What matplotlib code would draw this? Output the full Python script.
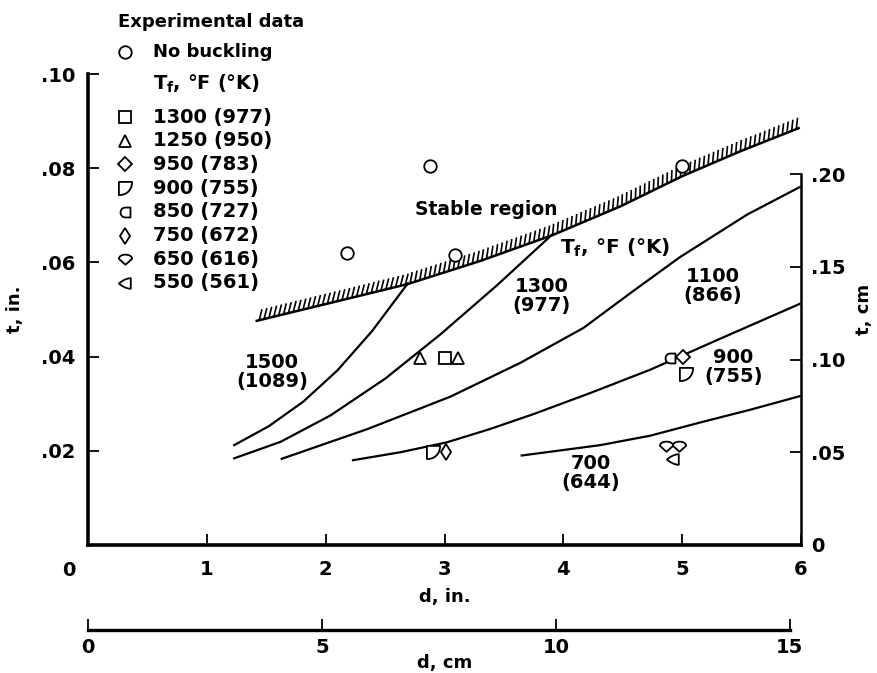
import matplotlib.pyplot as plt
from matplotlib.path import Path
import matplotlib.patheffects as pe

plt.rcParams['font.family'] = ['DejaVu Sans']
plt.rcParams['font.weight'] = 'bold'
plt.rcParams['axes.labelweight'] = 'bold'
plt.rcParams['mathtext.fontset'] = 'custom'
plt.rcParams['mathtext.rm'] = 'DejaVu Sans:bold'
plt.rcParams['mathtext.default'] = 'rm'

FS_NUM = 14     # numbers
FS_TXT = 13     # words

# boundary of stable region (hatched line)
bound_d = [1.42, 2.04, 2.69, 3.30, 3.91, 4.48, 5.0, 5.49, 5.98]
bound_t = [0.0476, 0.0514, 0.0554, 0.0603, 0.0658, 0.0719, 0.0783, 0.0836, 0.0885]

# buckling curves, T_f in degF (degK)
c1500_d = [1.23, 1.52, 1.81, 2.10, 2.39, 2.69]
c1500_t = [0.0212, 0.0252, 0.0304, 0.0371, 0.0454, 0.0555]
c1300_d = [1.23, 1.62, 2.04, 2.50, 2.96, 3.44, 3.91]
c1300_t = [0.0184, 0.0219, 0.0275, 0.0353, 0.0446, 0.0551, 0.0660]
c1100_d = [1.63, 2.35, 3.05, 3.64, 4.17, 4.56, 4.98, 5.55, 5.99]
c1100_t = [0.0183, 0.0246, 0.0315, 0.0387, 0.0461, 0.0534, 0.0611, 0.0702, 0.0760]
c900_d = [2.23, 2.63, 3.02, 3.38, 3.75, 4.23, 4.73, 5.32, 5.99]
c900_t = [0.0180, 0.0197, 0.0218, 0.0246, 0.0278, 0.0323, 0.0372, 0.0438, 0.0512]
c700_d = [3.65, 4.31, 4.73, 5.15, 5.57, 5.99]
c700_t = [0.0190, 0.0212, 0.0232, 0.0260, 0.0287, 0.0316]

curve_labels = ['1500\n(1089)', '1300\n(977)', '1100\n(866)', '900\n(755)', '700\n(644)']
label_d = [1.55, 3.82, 5.26, 5.43, 4.23]
label_t = [0.0368, 0.0528, 0.0549, 0.0378, 0.0153]

# experimental data
nobuck_d = [2.18, 2.88, 3.09, 5.0]
nobuck_t = [0.062, 0.0805, 0.0616, 0.0804]
exp_names = ['1300 (977)', '1250 (950)', '950 (783)', '900 (755)',
             '850 (727)', '750 (672)', '650 (616)', '550 (561)']
exp_d = [[3.0], [2.79, 3.11], [5.01], [2.90, 5.03],
         [4.90], [3.01], [4.86, 4.97], [4.92]]
exp_t = [[0.0398], [0.0398, 0.0398], [0.040], [0.0197, 0.0364],
         [0.0397], [0.0197], [0.0210, 0.0210], [0.0182]]

# custom marker shapes
C, L, M, Z = Path.CURVE4, Path.LINETO, Path.MOVETO, Path.CLOSEPOLY
m900 = Path([(-1, 1), (1, 1), (1, -0.2), (0.2, -1), (-1, -1), (-1, 1)],
            [M, L, C, C, C, Z])
m850 = Path([(0, 1), (1, 1), (1, -1), (0, -1), (-1.33, -1), (-1.33, 1), (0, 1), (0, 1)],
            [M, L, L, L, C, C, C, Z])
m650 = Path([(-1, 0.1), (-1, 0.95), (1, 0.95), (1, 0.1), (0, -0.8), (-1, 0.1)],
            [M, C, C, C, L, Z])
m550 = Path([(0.8, 0.8), (0.8, -0.8), (0.1, -0.8), (-0.6, -0.35), (-1, 0),
             (-0.6, 0.35), (0.1, 0.8), (0.8, 0.8), (0.8, 0.8)],
            [M, L, C, C, C, C, C, C, Z])
markers = ['s', '^', 'D', m900, m850, 'd', m650, m550]
msizes = [8.5, 9, 7.5, 9.5, 9.5, 8, 9.5, 9.5]

W, H = 877, 673
fig = plt.figure(figsize=(W/100, H/100), dpi=100)
ax = fig.add_axes([88/W, 1-545/H, 713/W, 471/H])
ax.set_xlim(0, 6)
ax.set_ylim(0, 0.1)

for d, t in [(c1500_d, c1500_t), (c1300_d, c1300_t), (c1100_d, c1100_t),
             (c900_d, c900_t), (c700_d, c700_t)]:
    ax.plot(d, t, color='black', lw=1.6, clip_on=False, solid_joinstyle='round')

ax.plot(bound_d, bound_t, color='black', lw=1.8, clip_on=False,
        path_effects=[pe.withTickedStroke(angle=62, spacing=3.6, length=2.1, linewidth=1.2)])

for txt, x, y in zip(curve_labels, label_d, label_t):
    ax.text(x, y, txt, ha='center', va='center', fontsize=FS_NUM, linespacing=1.0)
ax.text(2.75, 0.0713, 'Stable region', ha='left', va='center', fontsize=13.5)
ax.text(3.97, 0.063, 'T$_{f}$, °F (°K)', ha='left', va='center', fontsize=14.5)

mk = dict(color='black', mfc='white', mew=1.3, linestyle='none', clip_on=False)
ax.plot(nobuck_d, nobuck_t, marker='o', ms=9, **mk)
for d, t, m, s in zip(exp_d, exp_t, markers, msizes):
    ax.plot(d, t, marker=m, ms=s, **mk)

# key in the upper left (positions in figure pixels)
def fx(px):
    return px / W

def fy(py):
    return 1 - py / H

fig.text(fx(118), fy(22), 'Experimental data', ha='left', va='center', fontsize=FS_TXT)
ax.plot([fx(125)], [fy(52)], transform=fig.transFigure, marker='o', ms=9, **mk)
fig.text(fx(153), fy(52), 'No buckling', ha='left', va='center', fontsize=FS_TXT)
fig.text(fx(153), fy(84), 'T$_{f}$, °F (°K)', ha='left', va='center', fontsize=14)
for i, (n, m, s) in enumerate(zip(exp_names, markers, msizes)):
    row = 117 + 23.7 * i
    ax.plot([fx(125)], [fy(row)], transform=fig.transFigure, marker=m, ms=s, **mk)
    fig.text(fx(153), fy(row), n, ha='left', va='center', fontsize=FS_NUM)

# spines and ticks
ax.spines['top'].set_visible(False)
ax.spines['right'].set_visible(False)
ax.spines['left'].set_linewidth(2.6)
ax.spines['bottom'].set_linewidth(2.6)
ax.spines['left'].set_bounds(0, 0.1)
ax.set_xticks([1, 2, 3, 4, 5, 6])
ax.set_xticklabels(['1', '2', '3', '4', '5', '6'])
ax.set_yticks([0.02, 0.04, 0.06, 0.08, 0.10])
ax.set_yticklabels(['.02', '.04', '.06', '.08', '.10'])
ax.tick_params(direction='in', length=8, width=1.3, labelsize=FS_NUM)
ax.tick_params(axis='x', pad=11)
ax.tick_params(axis='y', pad=9)
ax.annotate('0', xy=(0, 0), xycoords=('data', 'axes fraction'), xytext=(-14, -18),
            textcoords='offset points', ha='center', va='center', fontsize=FS_NUM)
ax.set_xlabel('d, in.', fontsize=FS_TXT, labelpad=6)
ax.set_ylabel('t, in.', fontsize=FS_TXT, labelpad=12)

ax2 = ax.secondary_yaxis('right', functions=(lambda t: t*2.54, lambda c: c/2.54))
ax2.set_yticks([0, 0.05, 0.10, 0.15, 0.20])
ax2.set_yticklabels(['0', '.05', '.10', '.15', '.20'])
ax2.spines['right'].set_linewidth(1.8)
ax2.spines['right'].set_bounds(0, 0.2)
ax2.tick_params(direction='in', length=8, width=1.3, labelsize=FS_NUM, pad=7)
ax2.set_ylabel('t, cm', fontsize=FS_TXT, labelpad=7)

ax3 = ax.secondary_xaxis(-0.18, functions=(lambda d: d*2.54, lambda c: c/2.54))
ax3.set_xticks([0, 5, 10, 15])
ax3.set_xticklabels(['0', '5', '10', '15'])
ax3.spines['bottom'].set_linewidth(2.4)
ax3.spines['bottom'].set_bounds(0, 15)
ax3.tick_params(direction='in', length=8, width=1.3, labelsize=FS_NUM, pad=6)
ax3.set_xlabel('d, cm', fontsize=FS_TXT, labelpad=-2)

fig.savefig('out.png', dpi=100)
